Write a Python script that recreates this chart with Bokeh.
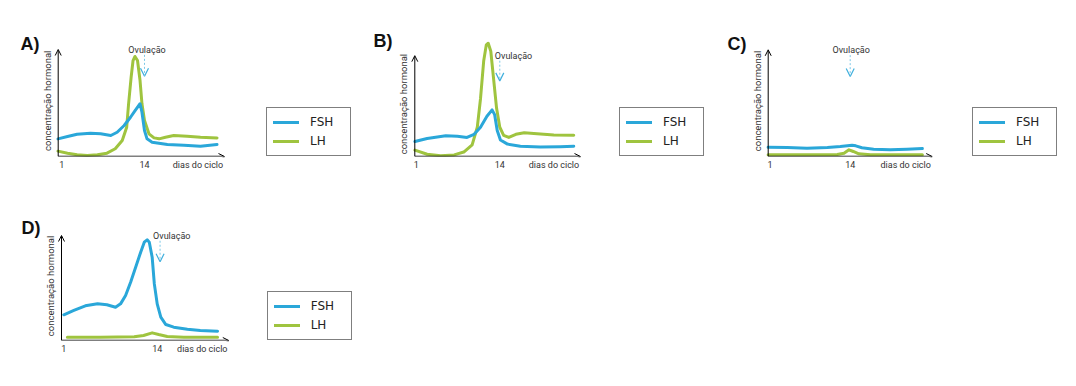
import math
from bokeh.plotting import figure
from bokeh.models import Range1d, Label, Arrow, OpenHead, FixedTicker, Legend, LegendItem
from bokeh.layouts import row, column
from bokeh.embed import file_html
from bokeh.resources import INLINE

# ---------------- data (days of cycle, hormone level 0-100) ----------------
panel_letters = ["A)", "B)", "C)", "D)"]
series_names = ["FSH", "LH"]
tick_days = [1, 14]
tick_labels = ["1", "14"]
x_title = "dias do ciclo"
y_title = "concentração hormonal"
ovulation_text = "Ovulação"
ovulation_day = [14.0, 14.0, 14.0, 14.4]

a_fsh_day = [0.4, 1.9, 3.4, 5.5, 7.1, 8.7, 9.7, 10.8, 11.8, 12.6, 13.3, 13.6, 14.0, 14.4, 15.2, 17.6, 20.2, 22.8, 25.4]
a_fsh_val = [16.5, 18.7, 20.8, 21.8, 21.2, 19.6, 22.7, 29.0, 36.7, 43.6, 49.3, 41.4, 24.3, 16.5, 13.4, 11.2, 10.5, 9.6, 11.2]
a_lh_day = [0.4, 1.9, 3.4, 5.0, 6.6, 8.1, 9.4, 10.5, 11.2, 11.5, 11.9, 12.2, 12.5, 12.9, 13.3, 13.6, 14.0, 14.7, 15.5, 16.3, 17.3, 18.6, 20.7, 22.8, 25.4]
a_lh_val = [5.0, 3.1, 1.6, 0.9, 1.6, 3.1, 7.2, 15.0, 27.4, 49.3, 74.1, 89.7, 93.5, 89.7, 71.0, 49.3, 33.6, 21.2, 17.4, 16.5, 18.0, 19.6, 19.0, 18.0, 17.4]

b_fsh_day = [0.8, 2.7, 5.6, 7.4, 8.9, 10.0, 11.0, 12.0, 12.8, 13.2, 13.6, 14.1, 15.2, 17.2, 20.3, 23.4, 25.5]
b_fsh_val = [14.8, 17.9, 20.5, 20.1, 18.9, 22.0, 29.0, 39.9, 46.2, 41.5, 25.8, 16.3, 12.3, 10.1, 9.4, 9.7, 10.1]
b_lh_day = [0.8, 2.7, 4.8, 6.9, 8.4, 9.7, 10.5, 11.0, 11.5, 11.9, 12.2, 12.6, 13.0, 13.5, 14.0, 14.6, 15.4, 16.5, 17.8, 19.8, 22.4, 25.5]
b_lh_val = [6.3, 2.2, 0.7, 1.6, 4.4, 11.6, 29.0, 57.3, 95.0, 110.7, 112.3, 104.4, 79.2, 47.8, 29.0, 21.0, 18.9, 22.0, 23.6, 22.6, 21.4, 21.0]

c_fsh_day = [0.7, 3.8, 7.0, 10.3, 12.4, 14.3, 14.9, 15.9, 17.8, 20.5, 23.2, 25.7]
c_fsh_val = [8.7, 8.4, 7.8, 8.4, 9.4, 10.6, 10.0, 8.2, 6.9, 6.3, 6.9, 7.5]
c_lh_day = [0.7, 6.5, 11.9, 13.0, 13.8, 14.5, 15.4, 17.3, 25.7]
c_lh_val = [1.6, 1.6, 1.9, 3.1, 6.3, 4.7, 2.5, 1.6, 1.6]

d_fsh_day = [1.0, 2.4, 4.0, 5.7, 7.0, 8.2, 8.9, 9.6, 10.3, 11.0, 11.7, 12.2, 12.6, 12.9, 13.3, 13.6, 14.0, 14.5, 15.2, 16.3, 18.2, 20.0, 22.4]
d_fsh_val = [24.5, 28.6, 33.0, 34.9, 34.0, 31.7, 34.9, 42.9, 55.5, 69.8, 84.1, 93.6, 95.9, 93.6, 79.3, 53.9, 34.9, 22.2, 15.2, 12.7, 10.8, 9.5, 8.9]
d_lh_day = [1.5, 6.1, 10.8, 12.1, 13.3, 14.2, 15.4, 17.7, 22.4]
d_lh_val = [3.1, 3.1, 3.5, 4.8, 7.3, 5.7, 3.8, 3.1, 3.1]

# ---------------- layout (screen pixels of the page) ----------------
layout_cfg = [
    dict(box=(0, 0, 362, 190), day1=61.3, day14=144.0, axis_x=57.7, axis_y=156, axis_top=49, axis_right=224,
         legend=(266, 156), letter=(20, 43), ovu_dx=2.5),
    dict(box=(362, 0, 352, 190), day1=415.7, day14=499.3, axis_x=414.3, axis_y=164, axis_top=58, axis_right=580,
         legend=(619, 164), letter=(373, 43), ovu_dx=13.7),
    dict(box=(714, 0, 358, 190), day1=769.5, day14=849.7, axis_x=767.7, axis_y=156, axis_top=49.3, axis_right=931.7,
         legend=(972, 156), letter=(727, 43.3), ovu_dx=1.0),
    dict(box=(0, 190, 362, 186), day1=63.3, day14=156.7, axis_x=61, axis_y=340, axis_top=235, axis_right=228.3,
         legend=(266.7, 340), letter=(21, 227), ovu_dx=11.7),
]

BLUE = "#2AA7D9"
GREEN = "#9FC43F"
ARROW_BLUE = "#3FAFDD"
TEXT = "#333333"
SMALL_FONT = "Roboto"
X_TITLE_HALF_WIDTH = 26.5


def make_panel(cfg, fsh_d, fsh_v, lh_d, lh_v, letter, ovu_day):
    ppd = (cfg["day14"] - cfg["day1"]) / 13.0
    ppu = (cfg["axis_y"] - cfg["axis_top"]) / 100.0

    def fx(px):
        return 1 + (px - cfg["day1"]) / ppd

    def fy(py):
        return (cfg["axis_y"] - py) / ppu

    left, top, w, h = cfg["box"]
    p = figure(width=w, height=h, output_backend="svg", toolbar_location=None, title=None,
               x_range=Range1d(fx(left), fx(left + w)), y_range=Range1d(0, fy(top)),
               y_axis_location=None, x_axis_location="below",
               min_border_left=0, min_border_right=0, min_border_top=0,
               min_border_bottom=int(round(top + h - cfg["axis_y"])))
    p.grid.visible = False
    p.outline_line_color = None
    p.background_fill_color = "white"
    p.border_fill_color = "white"

    # x axis: day ticks plus the axis title, which sits at the right end of the arrow
    title_pos = fx(cfg["axis_right"] - X_TITLE_HALF_WIDTH)
    ax = p.xaxis[0]
    ax.ticker = FixedTicker(ticks=tick_days + [title_pos])
    overrides = {d: t for d, t in zip(tick_days, tick_labels)}
    overrides[title_pos] = x_title
    ax.major_label_overrides = overrides
    ax.axis_line_color = None
    ax.major_tick_line_color = None
    ax.minor_tick_line_color = None
    ax.major_tick_in = 0
    ax.major_tick_out = 0
    ax.major_label_standoff = 3
    ax.major_label_text_font = SMALL_FONT
    ax.major_label_text_font_size = "9px"
    ax.major_label_text_color = TEXT

    r_lh = p.line(lh_d, lh_v, line_color=GREEN, line_width=3, line_join="round", line_cap="round")
    r_fsh = p.line(fsh_d, fsh_v, line_color=BLUE, line_width=3, line_join="round", line_cap="round")

    ox = fx(cfg["axis_x"])
    p.add_layout(Arrow(end=OpenHead(size=6, line_color="black", line_width=1),
                       x_start=ox, y_start=0, x_end=ox, y_end=100,
                       line_color="black", line_width=1))
    p.add_layout(Arrow(end=OpenHead(size=6, line_color="black", line_width=1),
                       x_start=ox, y_start=0, x_end=fx(cfg["axis_right"]), y_end=0,
                       line_color="black", line_width=1.5))

    p.add_layout(Arrow(end=OpenHead(size=8, line_color=ARROW_BLUE, line_width=1.2),
                       x_start=ovu_day, y_start=95, x_end=ovu_day, y_end=75,
                       line_color="#7CC8E8", line_width=1, line_dash="2 2"))

    p.add_layout(Label(x=ovu_day + cfg["ovu_dx"] / ppd, y=100, text=ovulation_text,
                       text_align="center", text_baseline="middle",
                       text_font=SMALL_FONT, text_font_size="9px", text_color=TEXT))
    p.add_layout(Label(x=fx(cfg["axis_x"] - 11), y=52, text=y_title, angle=math.pi / 2,
                       text_align="center", text_baseline="middle",
                       text_font=SMALL_FONT, text_font_size="9.5px", text_color=TEXT))
    lx, ly = cfg["letter"]
    p.add_layout(Label(x=fx(lx), y=fy(ly), text=letter, text_align="left", text_baseline="alphabetic",
                       text_font="Liberation Sans", text_font_style="bold", text_font_size="18px",
                       text_color="#111111"))

    gl, gb = cfg["legend"]
    legend = Legend(items=[LegendItem(label=series_names[0], renderers=[r_fsh]),
                           LegendItem(label=series_names[1], renderers=[r_lh])],
                    location=(gl - left, cfg["axis_y"] - gb), margin=0, padding=6, spacing=3,
                    glyph_width=26, glyph_height=16, label_height=16, label_width=34, label_standoff=11,
                    label_text_font="DejaVu Sans", label_text_font_size="12px", label_text_color="#222222",
                    label_text_baseline="middle",
                    border_line_color="black", border_line_width=1,
                    background_fill_color="white", background_fill_alpha=1.0)
    p.add_layout(legend)
    return p


pa = make_panel(layout_cfg[0], a_fsh_day, a_fsh_val, a_lh_day, a_lh_val, panel_letters[0], ovulation_day[0])
pb = make_panel(layout_cfg[1], b_fsh_day, b_fsh_val, b_lh_day, b_lh_val, panel_letters[1], ovulation_day[1])
pc = make_panel(layout_cfg[2], c_fsh_day, c_fsh_val, c_lh_day, c_lh_val, panel_letters[2], ovulation_day[2])
pd = make_panel(layout_cfg[3], d_fsh_day, d_fsh_val, d_lh_day, d_lh_val, panel_letters[3], ovulation_day[3])

page = column(row(pa, pb, pc, spacing=0), row(pd, spacing=0), spacing=0)

open("out.html", "w").write(file_html(page, INLINE))
